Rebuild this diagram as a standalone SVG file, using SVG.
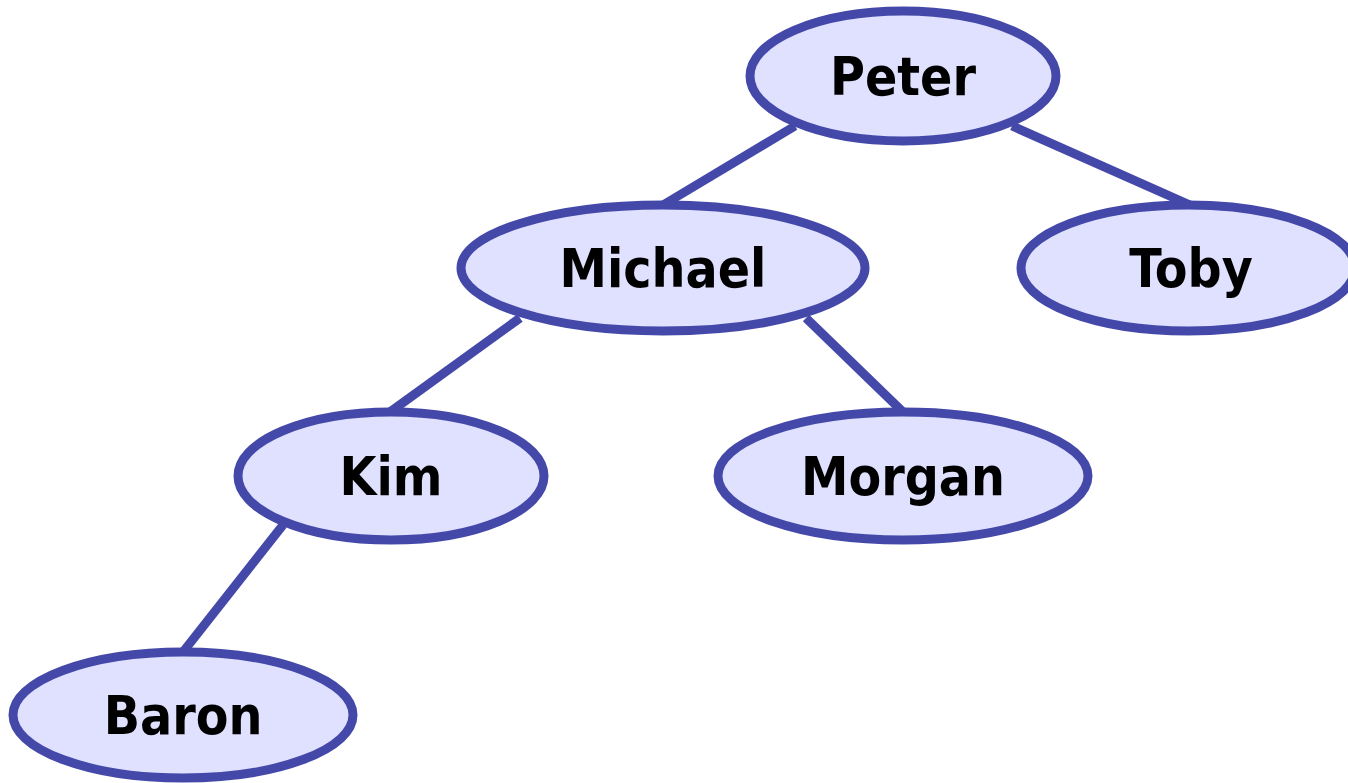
<svg xmlns="http://www.w3.org/2000/svg" width="1348" height="783" viewBox="0 0 1348 783">
<style>
.n ellipse{fill:#e0e0ff;stroke:#4449a9;stroke-width:9}
.n text{font-family:"DejaVu Sans Condensed","DejaVu Sans",sans-serif;font-weight:bold;font-size:53px;fill:#000;text-anchor:middle}
#edges line{stroke:#4449a9;stroke-width:9}
</style>
<rect width="1348" height="783" fill="#fff"/>
<g id="edges">
<line x1="795" y1="126" x2="663" y2="205"/>
<line x1="1012" y1="126" x2="1190" y2="205"/>
<line x1="520" y1="318" x2="390" y2="412"/>
<line x1="806" y1="318" x2="903" y2="412"/>
<line x1="283" y1="525" x2="183" y2="652"/>
</g>
<g id="peter" class="n"><ellipse cx="903" cy="76" rx="153" ry="65"/><text x="903" y="95">Peter</text></g>
<g id="michael" class="n"><ellipse cx="663" cy="268" rx="202" ry="63"/><text x="663" y="287">Michael</text></g>
<g id="toby" class="n"><ellipse cx="1188" cy="268" rx="167" ry="63"/><text x="1191" y="287">Toby</text></g>
<g id="kim" class="n"><ellipse cx="391" cy="476" rx="153" ry="64"/><text x="391" y="495">Kim</text></g>
<g id="morgan" class="n"><ellipse cx="903" cy="476" rx="185" ry="64"/><text x="903" y="495">Morgan</text></g>
<g id="baron" class="n"><ellipse cx="183" cy="715" rx="170" ry="63"/><text x="183" y="734">Baron</text></g>
</svg>
